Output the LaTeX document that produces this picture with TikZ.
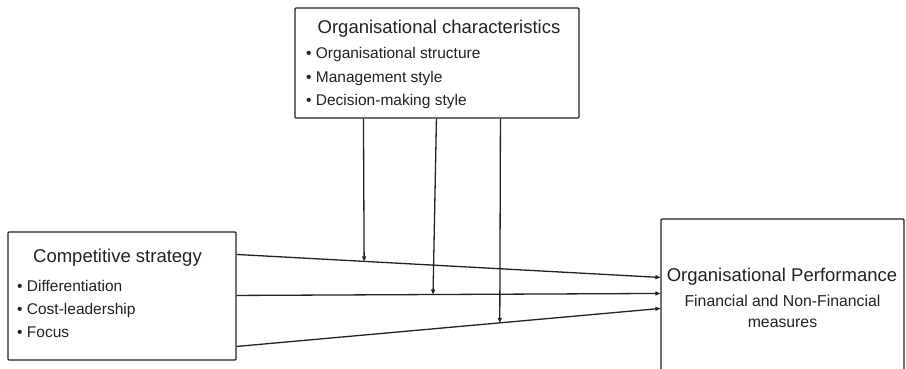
\documentclass[tikz,border=0pt]{standalone}
\usepackage{fontspec}
\setmainfont{Liberation Sans}
\usetikzlibrary{arrows.meta,calc}
\definecolor{ink}{HTML}{222222}
\begin{document}
\begin{tikzpicture}[x=1pt,y=-1pt,
  boxst/.style={draw=ink,line width=1.1pt,rounded corners=1pt,inner sep=0pt},
  titlest/.style={inner sep=0pt,anchor=base,text=ink,font=\fontsize{18.5}{22}\selectfont},
  itemst/.style={inner sep=0pt,anchor=base west,text=ink,font=\fontsize{15.5}{19}\selectfont},
  subst/.style={inner sep=0pt,anchor=base,text=ink,font=\fontsize{15.8}{19}\selectfont},
  conn/.style={draw=ink,line width=1.3pt,-{Triangle[length=5pt,width=4pt]}}]
\useasboundingbox (0,0) rectangle (906,368);
\clip (0,0) rectangle (906,368);
\fill[white] (0,0) rectangle (906,368);
% boxes
\node[boxst,minimum width=284pt,minimum height=110pt] (oc) at (437,63) {};
\node[boxst,minimum width=228pt,minimum height=128pt] (cs) at (122,296) {};
\node[boxst,minimum width=243pt,minimum height=180pt] (op) at (782.5,309) {};
% texts
\node[titlest] (octitle) at (439,33) {Organisational characteristics};
\node[itemst] (oc1) at (306,58) {• Organisational structure};
\node[itemst] (oc2) at (306,82) {• Management style};
\node[itemst] (oc3) at (306,105) {• Decision-making style};
\node[titlest] (cstitle) at (117.5,262) {Competitive strategy};
\node[itemst] (cs1) at (17,291) {• Differentiation};
\node[itemst] (cs2) at (17,314) {• Cost-leadership};
\node[itemst] (cs3) at (17,337) {• Focus};
\node[titlest] (optitle) at (782,281) {Organisational Performance};
\node[subst] (op1) at (782.5,306) {Financial and Non-Financial};
\node[subst] (op2) at (782.5,327) {measures};
% horizontal connectors
\draw[conn] ($(cs.north east)+(0,23)$) -- coordinate[pos=0.301] (m1) ($(op.north west)+(0,59)$);
\draw[conn] ($(cs.north east)+(0,64)$) -- coordinate[pos=0.4635] (m2) ($(op.north west)+(0,75)$);
\draw[conn] ($(cs.north east)+(0,115)$) -- coordinate[pos=0.621] (m3) ($(op.north west)+(0,90)$);
% vertical connectors
\draw[conn] ($(oc.south west)+(69,0)$) -- (m1);
\draw[conn] ($(oc.south west)+(142,0)$) -- (m2);
\draw[conn] ($(oc.south west)+(206,0)$) -- (m3);
\end{tikzpicture}
\end{document}
